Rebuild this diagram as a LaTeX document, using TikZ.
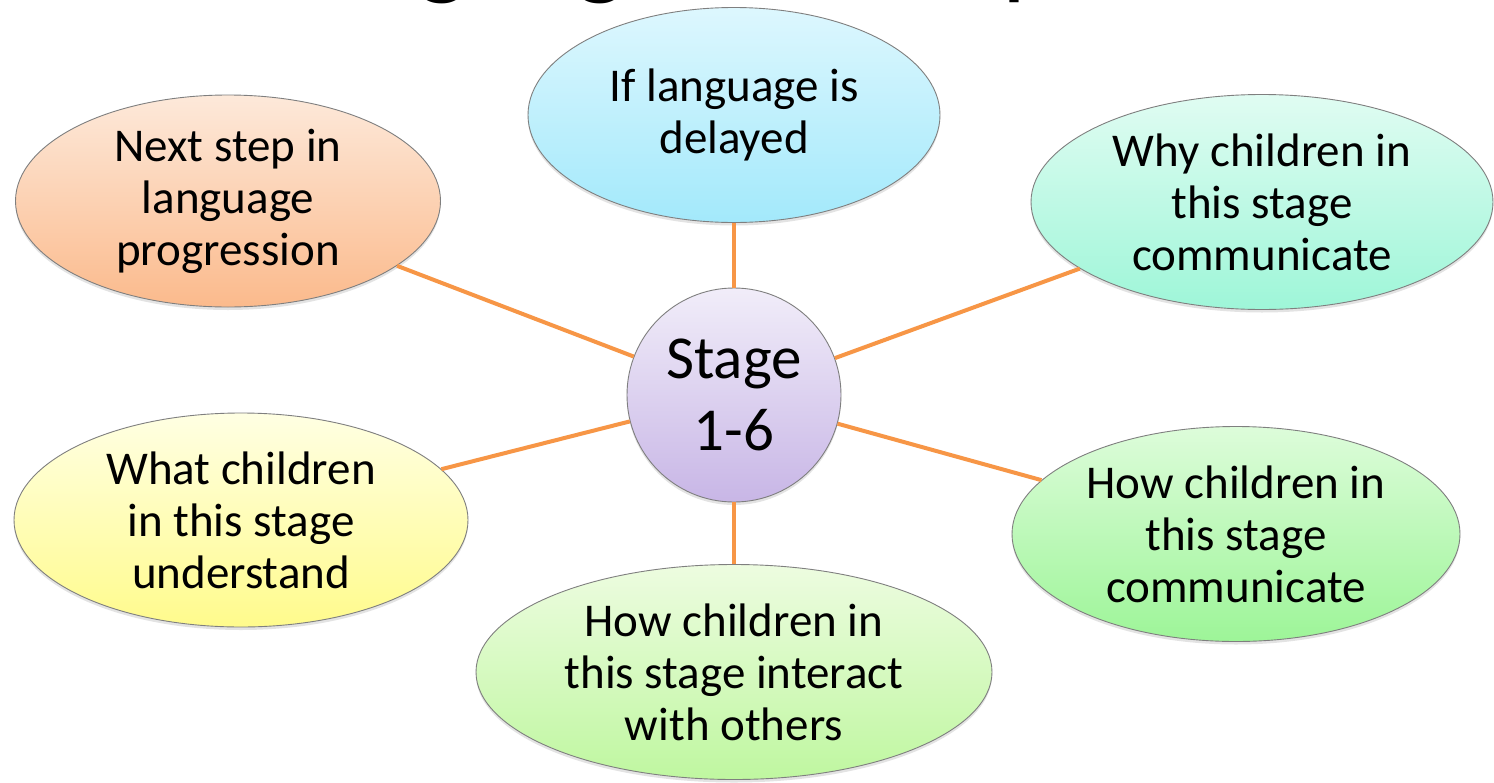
\documentclass[tikz,border=0pt]{standalone}
\usepackage{fontspec}
\setmainfont{Carlito}
\usetikzlibrary{shapes.geometric, shadows}

\definecolor{spokeorange}{HTML}{F79646}
\definecolor{rimgray}{HTML}{7F7F7F}
\definecolor{cyanT}{HTML}{DDF7FE}
\definecolor{cyanB}{HTML}{A3E9FB}
\definecolor{peachT}{HTML}{FDE9DA}
\definecolor{peachB}{HTML}{FBBA8C}
\definecolor{mintT}{HTML}{E0FCF2}
\definecolor{mintB}{HTML}{9EF6D8}
\definecolor{yellowT}{HTML}{FFFFE3}
\definecolor{yellowB}{HTML}{FFFB8C}
\definecolor{limeT}{HTML}{EDFCE0}
\definecolor{limeB}{HTML}{BFF7A0}
\definecolor{greenT}{HTML}{DDFCDA}
\definecolor{greenB}{HTML}{9DF598}
\definecolor{lilacT}{HTML}{F1EDF9}
\definecolor{lilacB}{HTML}{C8B6E6}

\tikzset{
    bubble/.style={ellipse, draw=rimgray, line width=0.9pt, inner sep=0pt, align=center,
        font=\fontsize{47}{52}\selectfont,
        drop shadow={opacity=0.22, shadow xshift=0pt, shadow yshift=-3pt}},
    hub/.style={circle, draw=rimgray, line width=0.9pt, inner sep=0pt, align=center,
        minimum size=214pt, font=\fontsize{61}{72}\selectfont,
        drop shadow={opacity=0.22, shadow xshift=0pt, shadow yshift=-3pt}},
    spoke/.style={draw=spokeorange, line width=4pt}
}

\begin{document}
\begin{tikzpicture}[x=1pt, y=-1pt]
        \useasboundingbox (0,0) rectangle (1494,782);
        \fill[white] (0,0) rectangle (1494,782);

        % title, cut by the top edge
        \begin{scope}
            \clip (0,0) rectangle (1494,782);
            \node[anchor=base west, inner sep=0pt, font=\fontsize{107}{120}\selectfont] (T) at (265,-15) {Language Development};
        \end{scope}

        \node[hub, top color=lilacT, bottom color=lilacB] (S) at (734,395) {Stage\\1-6};

        \node[bubble, minimum width=412pt, minimum height=215pt, top color=cyanT, bottom color=cyanB] (D) at (734,115) {If language is\\delayed};
        \node[bubble, minimum width=425pt, minimum height=212pt, top color=peachT, bottom color=peachB] (N) at (228,201) {Next step in\\language\\progression};
        \node[bubble, minimum width=462pt, minimum height=215pt, top color=mintT, bottom color=mintB] (W) at (1262,202) {Why children in\\this stage\\communicate};
        \node[bubble, minimum width=454pt, minimum height=214pt, top color=yellowT, bottom color=yellowB] (U) at (241,520) {What children\\in this stage\\understand};
        \node[bubble, minimum width=516pt, minimum height=215pt, top color=limeT, bottom color=limeB] (I) at (734,672) {How children in\\this stage interact\\with others};
        \node[bubble, minimum width=448pt, minimum height=215pt, top color=greenT, bottom color=greenB] (C) at (1236,534) {How children in\\this stage\\communicate};

        \draw[spoke] (S) -- (D);
        \draw[spoke] (S) -- (N);
        \draw[spoke] (S) -- (W);
        \draw[spoke] (S) -- (U);
        \draw[spoke] (S) -- (I);
        \draw[spoke] (S) -- (C);
    \end{tikzpicture}
\end{document}
